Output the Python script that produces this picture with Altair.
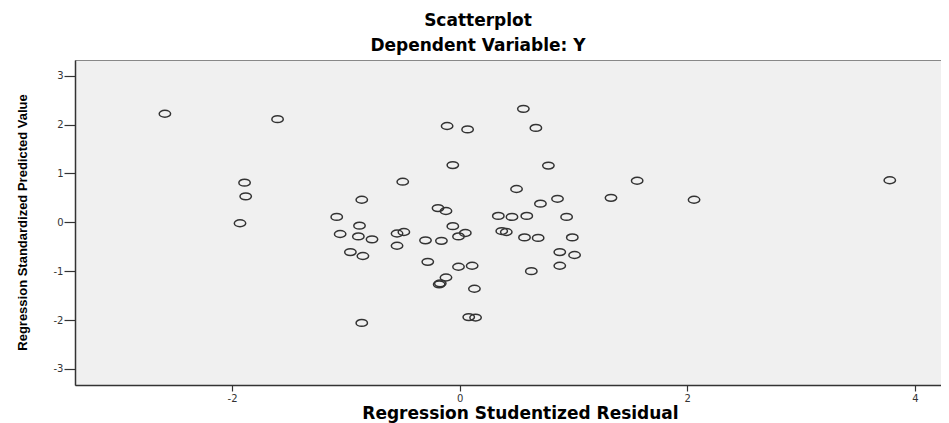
import altair as alt
import pandas as pd

# Regression Studentized Residual (x) and Regression Standardized Predicted Value (y)
residual = [
    -2.59, -1.60, -1.89, -1.88, -1.93, -0.11, 0.07, 0.56, 0.67, -0.06,
    0.78, -0.50, 0.50, 0.71, -0.86, -1.08, -0.19, -0.12, 0.34, 0.46,
    0.59, -0.88, -0.06, -1.05, -0.89, -0.77, -0.55, -0.49, -0.01, 0.05,
    0.37, 0.41, 0.57, 0.69, -0.30, -0.16, -0.55, -0.96, -0.85, -0.28,
    -0.01, 0.11, 0.63, -0.12, -0.18, -0.17, 0.13, 0.08, 0.14, -0.86,
    1.56, 3.78, 1.33, 2.06, 0.86, 0.94, 0.99, 0.88, 1.01, 0.88,
]
predicted = [
    2.22, 2.11, 0.81, 0.53, -0.02, 1.97, 1.90, 2.32, 1.93, 1.17,
    1.16, 0.83, 0.68, 0.38, 0.46, 0.11, 0.29, 0.23, 0.13, 0.11,
    0.13, -0.07, -0.08, -0.24, -0.29, -0.35, -0.23, -0.20, -0.29, -0.22,
    -0.18, -0.20, -0.31, -0.32, -0.37, -0.38, -0.48, -0.61, -0.69, -0.81,
    -0.91, -0.89, -1.00, -1.13, -1.27, -1.25, -1.36, -1.94, -1.95, -2.06,
    0.85, 0.86, 0.50, 0.46, 0.48, 0.11, -0.31, -0.61, -0.67, -0.89,
]
x_ticks = [-2, 0, 2, 4]
y_ticks = [-3, -2, -1, 0, 1, 2, 3]

df = pd.DataFrame({"res": residual, "pred": predicted})

ellipse = "M-1,0A1,0.6,0,1,1,1,0A1,0.6,0,1,1,-1,0Z"
wide = "DejaVu Sans, Verdana, sans-serif"
sans = "Liberation Sans, Arial, sans-serif"

chart = (
    alt.Chart(df)
    .mark_point(shape=ellipse, filled=False, size=130, stroke="#333333",
                strokeWidth=1.5, opacity=1)
    .encode(
        x=alt.X("res:Q", title="Regression Studentized Residual",
                scale=alt.Scale(domain=[-3.38, 4.23], nice=False, zero=False),
                axis=alt.Axis(values=x_ticks, labelExpr="toString(datum.value)",
                              grid=False, tickSize=6, labelPadding=2,
                              titleFont=wide, titleFontSize=17, titleFontWeight="bold",
                              titleX=445, titleY=33, titleAlign="center",
                              titleBaseline="alphabetic")),
        y=alt.Y("pred:Q", title="Regression Standardized Predicted Value",
                scale=alt.Scale(domain=[-3.33, 3.32], nice=False, zero=False),
                axis=alt.Axis(values=y_ticks, labelExpr="toString(datum.value)",
                              grid=False, tickSize=11, labelPadding=1,
                              titleFont=sans, titleFontSize=13, titleFontWeight="bold",
                              titleX=-49, titleY=162, titleAlign="center",
                              titleBaseline="alphabetic")),
    )
    .properties(
        width=866, height=325,
        autosize=alt.AutoSizeParams(type="none"),
        padding={"left": 67, "top": 52, "right": 0, "bottom": 38},
        title=alt.TitleParams(
            text="Scatterplot", subtitle="Dependent Variable: Y",
            font=wide, fontSize=17, fontWeight="bold", color="#000000",
            subtitleFont=wide, subtitleFontSize=17, subtitleFontWeight="bold",
            subtitleColor="#000000", anchor="middle", dx=-30, offset=5,
            subtitlePadding=8,
        ),
    )
    .configure_view(fill="#F0F0F0", stroke="#888888", strokeWidth=1)
    .configure_axis(domainColor="#333333", domainWidth=1.5, tickColor="#333333",
                    tickWidth=1.2, labelColor="#333333", labelFont=wide,
                    labelFontSize=10, titleColor="#000000")
)

chart.save("out.html", embed_options={"renderer": "svg", "actions": False})
